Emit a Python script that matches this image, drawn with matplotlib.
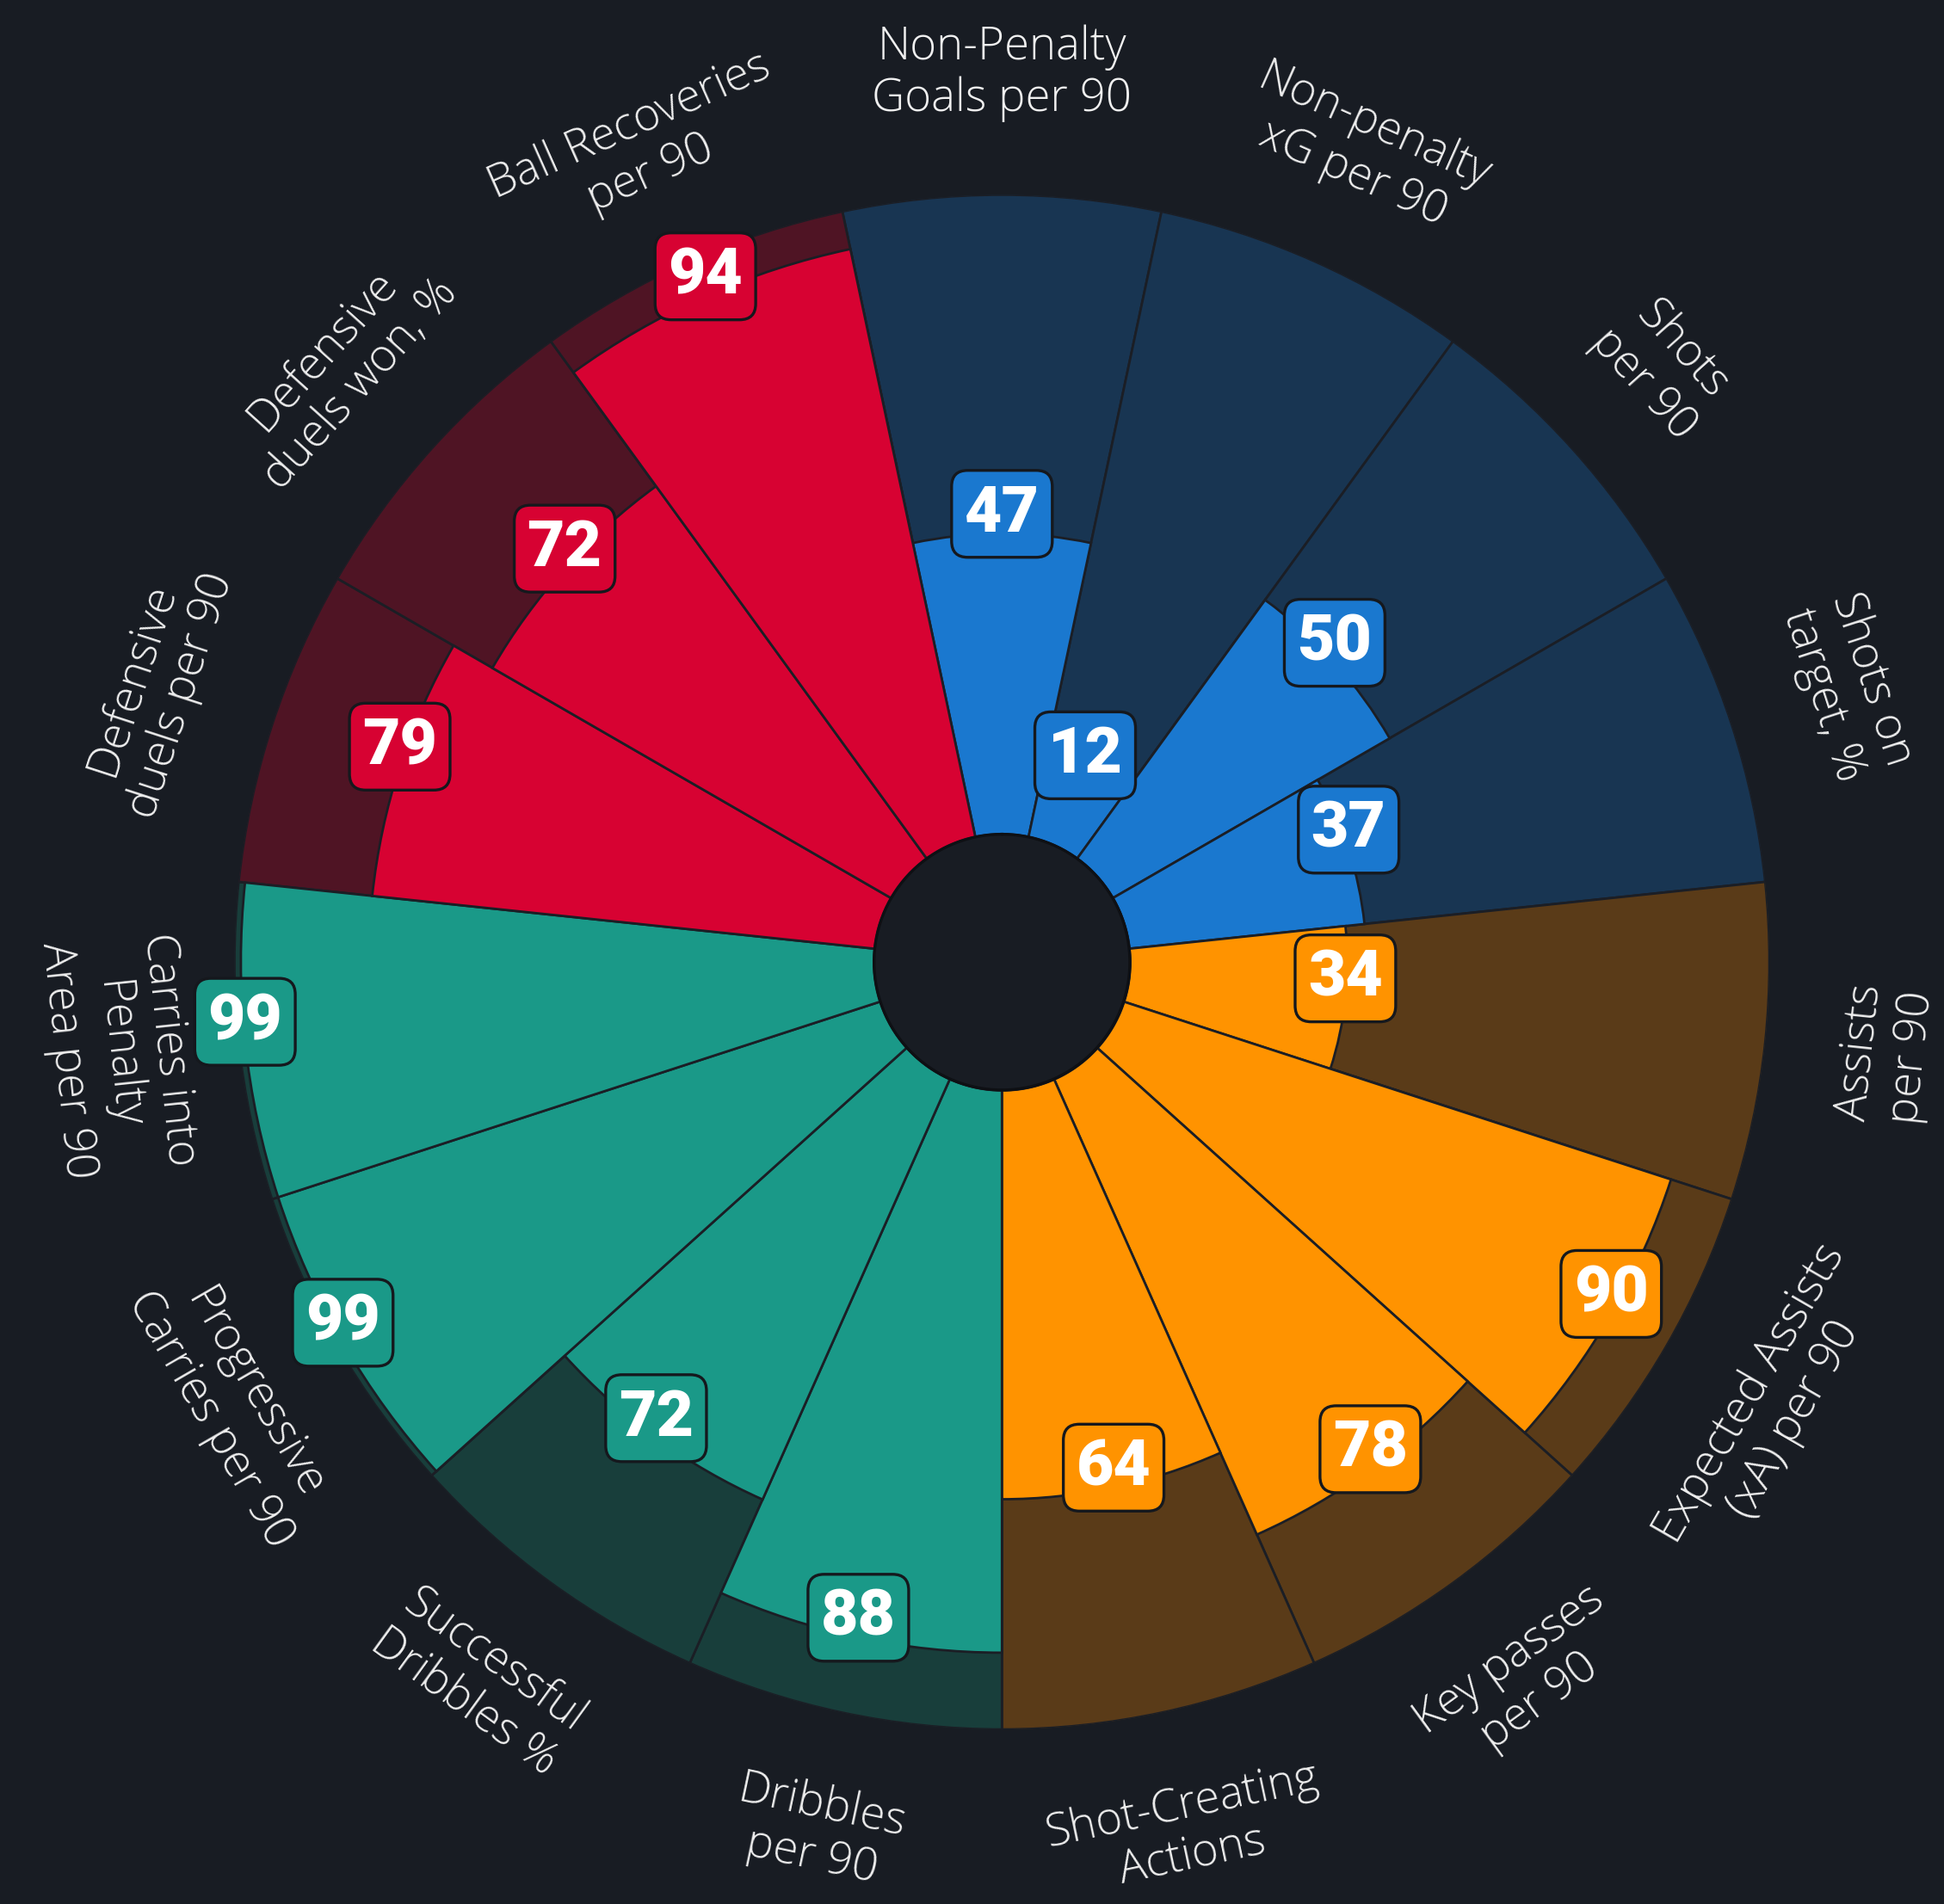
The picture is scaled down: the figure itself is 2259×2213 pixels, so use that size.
import numpy as np
import matplotlib.pyplot as plt

# parameters, going clockwise from the top
params = ["Non-Penalty\nGoals per 90", "Non-penalty\nxG per 90", "Shots\nper 90",
          "Shots on\ntarget, %", "Assists\nper 90", "Expected Assists\n(xA) per 90",
          "Key passes\nper 90", "Shot-Creating\nActions", "Dribbles\nper 90",
          "Successful\nDribbles %", "Progressive\nCarries per 90",
          "Carries into\nPenalty\nArea per 90", "Defensive\nduels per 90",
          "Defensive\nduels won, %", "Ball Recoveries\nper 90"]
values = [47, 12, 50, 37, 34, 90, 78, 64, 88, 72, 99, 99, 79, 72, 94]
groups = ["att"] * 4 + ["cre"] * 4 + ["drb"] * 4 + ["def"] * 3

# slice colours per group: (value colour, background colour)
colors = {"att": ("#1a78cf", "#183552"),
          "cre": ("#ff9300", "#5a3b18"),
          "drb": ("#1a9988", "#183e3b"),
          "def": ("#d70232", "#4f1424")}

bg = "#181c23"
edge = "#1b1e25"
hole = 20  # inner circle, in value units

fig = plt.figure(figsize=(11.295, 11.065), dpi=200, facecolor=bg)
ax = fig.add_axes([0.1204, 0.0917, 0.79, 0.806], projection="polar")
ax.set_facecolor(bg)
ax.set_theta_zero_location("N")
ax.set_theta_direction(-1)

n = len(values)
width = 2 * np.pi / n
theta = np.arange(n) * width

fg_cols = [colors[g][0] for g in groups]
bg_cols = [colors[g][1] for g in groups]

ax.bar(theta, [100] * n, width=width, bottom=hole, color=bg_cols,
       edgecolor=edge, linewidth=1.0, zorder=2)
ax.bar(theta, values, width=width, bottom=hole, color=fg_cols,
       edgecolor=edge, linewidth=1.0, zorder=3)

# centre circle
t = np.linspace(0, 2 * np.pi, 400)
ax.fill_between(t, 0, hole, color=bg, zorder=4)
ax.plot(t, [hole] * len(t), color="#0e1014", lw=1.2, zorder=5)

# value boxes, sitting a little above the end of each bar
for th, v, c in zip(theta, values, fg_cols):
    ax.annotate(str(v), xy=(th, v + hole), xytext=(0, 8.3),
                textcoords="offset points", ha="center", va="center",
                fontsize=27, fontweight="heavy", family="Roboto", color="white",
                zorder=6,
                bbox=dict(boxstyle="round,pad=0.2,rounding_size=0.25",
                          fc=c, ec="#15181d", lw=1.2))

# parameter labels
for th, p in zip(theta, params):
    ang = (90 - np.degrees(th)) % 360
    rot = ang - 90 if 0 < ang <= 180 else ang + 90
    ax.text(th, 139, p, ha="center", va="center", rotation=rot,
            rotation_mode="anchor", fontsize=19, family="Open Sans",
            fontweight="light", color="#f0f0f0", linespacing=1.15)

ax.set_ylim(0, 120)
ax.set_xticks([])
ax.set_yticks([])
ax.grid(False)
ax.spines["polar"].set_visible(False)

fig.savefig("out.png", dpi=200, facecolor=bg)
